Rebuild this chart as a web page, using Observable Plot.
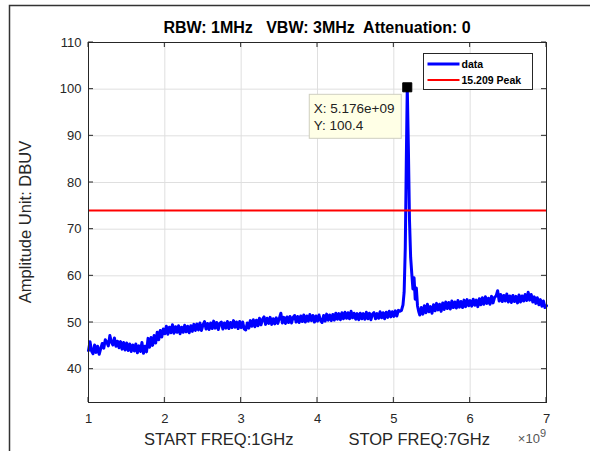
<!DOCTYPE html>
<html><head><meta charset="utf-8">
<script src="https://cdn.jsdelivr.net/npm/d3@7"></script>
<script src="https://cdn.jsdelivr.net/npm/@observablehq/plot@0.6"></script>
<style>
html,body{margin:0;padding:0;background:#fff;}
#chart{position:relative;width:590px;height:451px;overflow:hidden;}
</style></head><body><div id="chart"></div>
<script>
const titleText = "RBW: 1MHz   VBW: 3MHz  Attenuation: 0";
const yLabel = "Amplitude Unit: DBUV";
const xLabel = "START FREQ:1GHz            STOP FREQ:7GHz";
const xExponent = "9";
const xTicks = [1, 2, 3, 4, 5, 6, 7];
const yTicks = [40, 50, 60, 70, 80, 90, 100, 110];
const seriesNames = ["data", "15.209 Peak"];
const limitLevel = 74;
const peakFreqGHz = 5.176;
const peakLevel = 100.4;

// trace, 1.00 .. 5.08 GHz, 0.02 GHz apart
const lowStartGHz = 1.00, lowStepGHz = 0.02;
const lowLevels = [
  44.0, 45.9, 43.9, 43.3, 45.2, 43.6, 44.9, 43.2, 44.4, 45.5,
  44.5, 46.3, 45.8, 45.0, 47.2, 45.8, 45.2, 46.7, 44.9, 46.0,
  44.6, 45.9, 44.3, 45.7, 44.1, 45.6, 44.0, 45.4, 43.8, 45.2,
  43.9, 45.4, 43.5, 45.0, 43.8, 45.7, 43.4, 44.9, 43.7, 46.6,
  44.7, 46.8, 45.1, 47.2, 45.6, 47.9, 46.3, 48.3, 46.9, 48.6,
  47.6, 49.2, 47.5, 49.0, 47.8, 49.5, 47.7, 49.1, 47.9, 49.3,
  47.6, 49.0, 47.9, 49.4, 48.0, 49.2, 47.8, 49.3, 48.1, 49.6,
  48.3, 49.7, 48.4, 49.9, 48.3, 49.5, 50.2, 48.6, 49.8, 48.5,
  49.9, 48.7, 50.3, 48.8, 50.0, 48.5, 49.8, 50.1, 48.6, 49.9,
  48.8, 50.2, 48.7, 50.0, 48.9, 50.4, 49.0, 50.1, 48.7, 50.2,
  48.9, 50.1, 48.6, 48.4, 49.9, 48.8, 50.4, 49.2, 50.6, 49.1,
  50.5, 49.3, 50.9, 49.5, 50.7, 51.2, 49.6, 50.9, 49.8, 51.1,
  49.6, 50.8, 49.7, 51.0, 49.8, 50.9, 52.0, 49.9, 51.1, 49.8,
  51.2, 50.0, 51.3, 49.9, 51.1, 51.5, 50.1, 51.3, 50.0, 51.4,
  50.2, 51.6, 50.1, 51.4, 50.3, 51.7, 50.4, 51.5, 50.1, 51.4,
  50.3, 51.6, 50.4, 50.0, 51.5, 50.3, 51.8, 50.5, 51.6, 50.4,
  51.7, 50.5, 52.0, 50.7, 51.9, 50.6, 52.1, 50.8, 52.2, 50.9,
  52.1, 50.8, 52.4, 51.0, 52.0, 50.7, 51.9, 50.6, 52.0, 50.8,
  51.9, 50.7, 52.2, 50.8, 52.0, 50.6, 51.8, 52.1, 50.8, 51.9,
  50.9, 52.3, 51.0, 52.1, 50.8, 52.2, 51.1, 52.4, 51.2, 52.3,
  51.3, 52.5, 51.4, 52.6, 52.4
];
// trace around the emission peak
const peakFreqs = [5.10, 5.12, 5.135, 5.15, 5.163, 5.176, 5.19, 5.205, 5.22, 5.235, 5.25, 5.265, 5.28, 5.295, 5.31, 5.325];
const peakLevels = [52.6, 53.8, 56.5, 66.0, 84.0, 100.4, 88.0, 72.0, 64.0, 60.5, 57.2, 59.6, 55.0, 57.4, 53.6, 52.4];
// trace, 5.34 .. 7.00 GHz, 0.02 GHz apart
const highStartGHz = 5.34, highStepGHz = 0.02;
const highLevels = [
  51.6, 53.2, 51.8, 53.6, 52.1, 53.9, 52.3, 53.4, 52.0, 53.8,
  52.5, 54.1, 52.7, 53.9, 52.4, 54.2, 52.8, 54.4, 53.0, 54.3,
  52.9, 54.6, 53.2, 54.4, 53.1, 54.7, 53.3, 54.5, 53.2, 54.8,
  53.4, 54.9, 53.6, 54.7, 53.5, 55.0, 53.7, 54.8, 53.4, 55.1,
  53.8, 55.3, 53.9, 55.5, 54.1, 55.2, 53.9, 55.6, 54.2, 55.4,
  55.7, 56.8, 54.6, 56.0, 54.5, 55.8, 54.6, 56.1, 54.4, 55.7,
  54.3, 55.8, 54.5, 55.6, 54.2, 55.9, 54.4, 55.7, 54.6, 56.0,
  54.7, 56.5, 54.8, 56.0, 54.4, 55.5, 54.1, 55.3, 53.8, 54.9,
  53.5, 54.6, 53.2, 53.6
];

const trace = [
  ...lowLevels.map((v, i) => ({f: lowStartGHz + i * lowStepGHz, v})),
  ...peakFreqs.map((f, i) => ({f, v: peakLevels[i]})),
  ...highLevels.map((v, i) => ({f: highStartGHz + i * highStepGHz, v}))
];

const FONT = "'Liberation Sans', Arial, Helvetica, sans-serif";
const TXT = "#262626";

const plot = Plot.plot({
  width: 590, height: 451,
  marginLeft: 88, marginRight: 44, marginTop: 42, marginBottom: 49,
  style: {fontFamily: FONT, fontSize: "13px", color: TXT, background: "white", overflow: "visible"},
  x: {domain: [1, 7]},
  y: {domain: [32.86, 110]},
  marks: [
    Plot.gridX(xTicks, {stroke: "#dfdfdf", strokeOpacity: 1}),
    Plot.gridY(yTicks, {stroke: "#dfdfdf", strokeOpacity: 1}),
    Plot.axisX(xTicks, {tickSize: 0, tickPadding: 11, fontSize: 13, fill: TXT, label: null, tickFormat: d => String(d)}),
    Plot.axisY(yTicks, {tickSize: 0, tickPadding: 7, fontSize: 13, fill: TXT, label: null}),
    Plot.line(trace, {x: "f", y: "v", stroke: "#0000ff", strokeWidth: 3, strokeLinejoin: "round"}),
    Plot.ruleY([limitLevel], {stroke: "#ff0000", strokeWidth: 2}),
    Plot.dot([{f: peakFreqGHz, v: peakLevel}], {x: "f", y: "v", symbol: "square", r: 5.1, fill: "black", stroke: "black", strokeWidth: 1}),
    Plot.frame({stroke: TXT, strokeWidth: 1})
  ]
});
document.getElementById("chart").appendChild(plot);

const svg = d3.select(plot);
const xs = plot.scale("x").apply, ys = plot.scale("y").apply;
const [x0, x1] = [xs(1), xs(7)];
const [yTop, yBot] = [ys(110), ys(32.86)];
const TL = 5;

// inward tick marks on all four sides
const tg = svg.append("g").attr("stroke", TXT).attr("stroke-width", 1);
xTicks.forEach(t => {
  const x = xs(t);
  tg.append("line").attr("x1", x).attr("x2", x).attr("y1", yBot).attr("y2", yBot - TL);
  tg.append("line").attr("x1", x).attr("x2", x).attr("y1", yTop).attr("y2", yTop + TL);
});
yTicks.forEach(t => {
  const y = ys(t);
  tg.append("line").attr("x1", x0).attr("x2", x0 + TL).attr("y1", y).attr("y2", y);
  tg.append("line").attr("x1", x1).attr("x2", x1 - TL).attr("y1", y).attr("y2", y);
});

// figure window edge
svg.append("path").attr("d", "M9.5,451 V5.5 H590").attr("fill", "none").attr("stroke", "#333").attr("stroke-width", 1.5);

const cx = (x0 + x1) / 2;
// title
svg.append("text").attr("x", cx).attr("y", 27).attr("dy", "0.35em").attr("text-anchor", "middle")
  .attr("font-family", FONT).attr("font-size", 16).attr("font-weight", "bold").attr("fill", "#000")
  .style("white-space", "pre").text(titleText);
// y label
svg.append("text").attr("transform", `translate(25,${(yTop + yBot) / 2}) rotate(-90)`).attr("dy", "0.35em")
  .attr("text-anchor", "middle").attr("font-family", FONT).attr("font-size", 16.5).attr("fill", TXT).text(yLabel);
// x label
svg.append("text").attr("x", cx).attr("y", 439).attr("dy", "0.35em").attr("text-anchor", "middle")
  .attr("font-family", FONT).attr("font-size", 16.5).attr("fill", TXT).style("white-space", "pre").text(xLabel);
// x10^9 exponent
const ex = svg.append("text").attr("x", x1).attr("y", 443).attr("text-anchor", "end")
  .attr("font-family", FONT).attr("font-size", 13).attr("fill", "#555");
ex.append("tspan").text("\u00d710");
ex.append("tspan").attr("dy", -6).attr("font-size", 11).text(xExponent);

// legend
const lg = svg.append("g").attr("transform", "translate(423.5,53.5)");
lg.append("rect").attr("width", 109).attr("height", 36).attr("fill", "white").attr("stroke", "#262626").attr("stroke-width", 1);
const legendColors = ["#0000ff", "#ff0000"];
seriesNames.forEach((name, i) => {
  const y = 10.5 + i * 16;
  lg.append("line").attr("x1", 4).attr("x2", 36).attr("y1", y).attr("y2", y)
    .attr("stroke", legendColors[i]).attr("stroke-width", i === 0 ? 3 : 2);
  lg.append("text").attr("x", 38).attr("y", y).attr("dy", "0.35em").attr("text-anchor", "start").attr("font-family", FONT)
    .attr("font-size", 10.5).attr("font-weight", "bold").attr("fill", "#000").text(name);
});

// data tip anchored to the peak
const px = xs(peakFreqGHz), py = ys(peakLevel);
const tip = svg.append("g").attr("transform", `translate(${px - 98},${py + 7})`);
tip.append("rect").attr("x", 0.5).attr("y", 0.5).attr("width", 92).attr("height", 44)
  .attr("fill", "#ffffe6").attr("stroke", "#cfcfc0").attr("stroke-width", 1);
tip.append("text").attr("x", 5).attr("y", 14).attr("dy", "0.35em").attr("text-anchor", "start").attr("font-family", FONT)
  .attr("font-size", 13.5).attr("fill", "#222").text(`X: ${(peakFreqGHz * 1e9).toExponential(3).replace("e+9", "e+09")}`);
tip.append("text").attr("x", 5).attr("y", 31).attr("dy", "0.35em").attr("text-anchor", "start").attr("font-family", FONT)
  .attr("font-size", 13.5).attr("fill", "#222").text(`Y: ${peakLevel}`);
</script>
</body></html>
